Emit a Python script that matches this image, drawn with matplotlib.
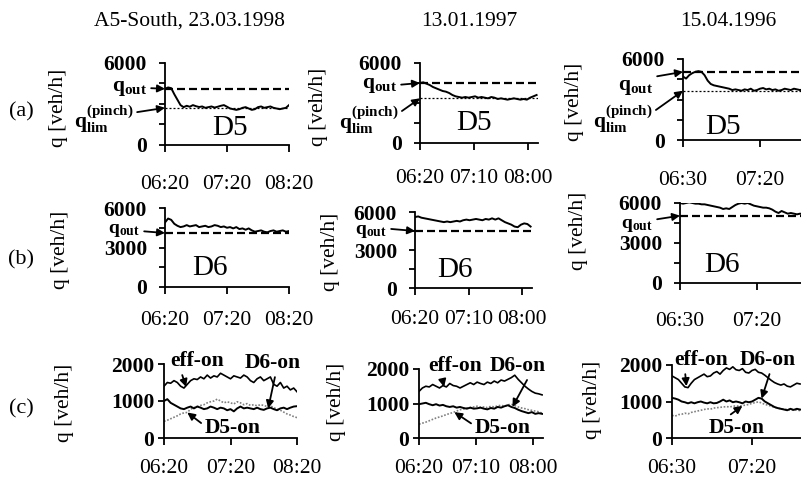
import matplotlib
matplotlib.use("Agg")
import matplotlib.pyplot as plt
import numpy as np

W, H = 801, 479

plt.rcParams["font.family"] = ["Liberation Serif", "DejaVu Serif"]
plt.rcParams["mathtext.fontset"] = "custom"
plt.rcParams["mathtext.rm"] = "Liberation Serif"
plt.rcParams["mathtext.it"] = "Liberation Serif:italic"
plt.rcParams["mathtext.bf"] = "Liberation Serif:bold"

# sampling times, minutes after midnight
T_1998 = np.arange(380, 501, 3)   # 06:20 .. 08:20
T_1997 = np.arange(380, 489, 3)   # 06:20 .. 08:08
T_1996 = np.arange(390, 471, 2)   # 06:30 .. 07:50

TITLES = ["A5-South, 23.03.1998", "13.01.1997", "15.04.1996"]
XTICKS = [[380, 440, 500], [380, 430, 480], [390, 440]]
XLABELS = [["06:20", "07:20", "08:20"], ["06:20", "07:10", "08:00"], ["06:30", "07:20"]]

Q_OUT = [4100, 4500, 5050]
Q_LIM = [2700, 3350, 3650]

# (a) total flow at D5 [veh/h]
D5_1998 = [4100, 4200, 4150, 3700, 3300, 2900, 2750, 2850, 2780, 2900, 2820,
           2760, 2800, 2700, 2750, 2800, 2720, 2780, 2850, 2900, 2780, 2650,
           2600, 2550, 2600, 2700, 2750, 2650, 2550, 2600, 2750, 2800, 2700,
           2750, 2800, 2700, 2650, 2600, 2650, 2700, 2900]
D5_1997 = [4500, 4550, 4450, 4350, 4200, 4100, 4000, 3900, 3850, 3750, 3600,
           3500, 3450, 3400, 3450, 3400, 3450, 3500, 3400, 3450, 3400, 3350,
           3450, 3400, 3300, 3350, 3300, 3250, 3300, 3350, 3300, 3250, 3300,
           3250, 3400, 3500, 3600]
D5_1996 = [4700, 4550, 4800, 4950, 5050, 5100, 5050, 4800, 4400, 4150, 4050,
           4000, 3950, 3900, 3850, 3800, 3700, 3750, 3700, 3650, 3750, 3700,
           3800, 3650, 3700, 3800, 3850, 3750, 3800, 3700, 3750, 3650, 3700,
           3800, 3750, 3700, 3800, 3750, 3700, 3750, 3800]

# (b) total flow at D6 [veh/h]
D6_1998 = [4900, 5200, 5100, 4800, 4650, 4550, 4600, 4700, 4600, 4650, 4700,
           4550, 4600, 4650, 4550, 4600, 4700, 4650, 4550, 4600, 4500, 4550,
           4450, 4550, 4400, 4450, 4350, 4450, 4300, 4200, 4250, 4300, 4200,
           4150, 4250, 4300, 4200, 4250, 4300, 4200, 4250]
D6_1997 = [5600, 5650, 5550, 5500, 5450, 5400, 5350, 5300, 5250, 5200, 5250,
           5200, 5250, 5300, 5250, 5350, 5400, 5350, 5400, 5450, 5400, 5350,
           5450, 5400, 5500, 5400, 5500, 5350, 5200, 5100, 5000, 4850, 4800,
           5000, 5100, 5050, 4850]
D6_1996 = [6000, 5950, 6000, 6050, 6000, 5950, 5950, 5900, 5900, 5850, 5800,
           5750, 5700, 5650, 5550, 5600, 5550, 5700, 5850, 5950, 6000, 5950,
           6000, 5900, 5800, 5750, 5700, 5650, 5650, 5600, 5500, 5350, 5250,
           5400, 5300, 5200, 5250, 5200, 5150, 5200, 5150]

# (c) on-ramp flows [veh/h]
EFF_1998 = [1400, 1500, 1480, 1550, 1500, 1400, 1350, 1450, 1550, 1600, 1580,
            1650, 1600, 1700, 1620, 1680, 1650, 1750, 1700, 1650, 1600, 1680,
            1650, 1620, 1700, 1650, 1550, 1500, 1600, 1650, 1550, 1600, 1650,
            1450, 1400, 1500, 1350, 1400, 1300, 1350, 1250]
D6ON_1998 = [1000, 1050, 950, 900, 850, 800, 780, 820, 850, 800, 850,
             820, 780, 800, 850, 820, 780, 820, 800, 750, 780, 720,
             800, 850, 800, 820, 800, 780, 820, 780, 760, 800, 820,
             780, 750, 800, 820, 780, 820, 850, 860]
D5ON_1998 = [450, 480, 520, 560, 600, 650, 680, 690, 780, 820, 850,
             880, 900, 950, 980, 1000, 1050, 1000, 950, 980, 950, 920,
             980, 950, 900, 930, 880, 900, 870, 900, 880, 850, 870,
             820, 780, 750, 700, 650, 620, 580, 550]

EFF_1997 = [1350, 1450, 1500, 1480, 1550, 1500, 1450, 1520, 1480, 1580, 1520,
            1500, 1450, 1500, 1550, 1600, 1550, 1620, 1580, 1550, 1620, 1580,
            1650, 1600, 1680, 1650, 1700, 1750, 1820, 1700, 1600, 1500, 1420,
            1350, 1300, 1280, 1250]
D6ON_1997 = [980, 1000, 1020, 980, 950, 980, 940, 960, 920, 900, 920,
             880, 900, 870, 850, 880, 850, 860, 880, 850, 830, 870,
             850, 900, 880, 920, 950, 900, 870, 820, 780, 750, 720,
             750, 700, 720, 700]
D5ON_1997 = [400, 430, 460, 500, 540, 580, 610, 640, 680, 710, 740,
             780, 820, 840, 870, 880, 900, 920, 890, 900, 880, 920,
             900, 930, 950, 920, 960, 980, 940, 900, 870, 850, 820,
             800, 780, 760, 720]

EFF_1996 = [1700, 1650, 1600, 1500, 1400, 1380, 1500, 1600, 1650, 1700, 1750,
            1680, 1700, 1780, 1820, 1750, 1850, 1920, 1880, 1950, 1870, 1850,
            1900, 1800, 1780, 1850, 1880, 1800, 1780, 1720, 1650, 1580, 1520,
            1480, 1450, 1480, 1420, 1400, 1450, 1500, 1480]
D6ON_1996 = [1100, 1080, 1050, 1000, 980, 950, 980, 950, 980, 1000, 970,
             950, 980, 950, 960, 1000, 1050, 1000, 1030, 980, 1000, 980,
             950, 1000, 980, 1000, 1050, 1100, 1080, 1000, 950, 900, 850,
             820, 800, 780, 760, 800, 770, 800, 780]
D5ON_1996 = [620, 600, 640, 650, 680, 660, 700, 720, 740, 760, 780,
             800, 790, 820, 830, 840, 850, 860, 850, 870, 880, 870,
             890, 900, 920, 950, 970, 990, 960, 920, 900, 870, 840,
             820, 800, 790, 780, 770, 760, 770, 750]

TIMES = [T_1998, T_1997, T_1996]
ROW_A = [D5_1998, D5_1997, D5_1996]
ROW_B = [D6_1998, D6_1997, D6_1996]
ROW_C = [(EFF_1998, D6ON_1998, D5ON_1998),
         (EFF_1997, D6ON_1997, D5ON_1997),
         (EFF_1996, D6ON_1996, D5ON_1996)]

FS = 15.5


def fpx(x, y):
    """pixel position measured from the top-left corner -> figure fraction"""
    return x / W, 1 - y / H


def add_box(fig, x0, y0, x1, y1):
    return fig.add_axes([x0 / W, 1 - y1 / H, (x1 - x0) / W, (y1 - y0) / H])


def style(ax, xlim, col, ylim, yticks, ylabels, ypad, xpad):
    ax.set_xlim(*xlim)
    ax.set_ylim(*ylim)
    for s in ("top", "right"):
        ax.spines[s].set_visible(False)
    for s in ("left", "bottom"):
        ax.spines[s].set_linewidth(1.3)
    ax.set_xticks(XTICKS[col], XLABELS[col])
    ax.set_yticks(yticks, ylabels)
    ax.tick_params(axis="y", direction="out", length=4, width=1.3, pad=ypad, labelsize=FS)
    ax.tick_params(axis="x", direction="out", length=5, width=1.3, pad=xpad, labelsize=FS)
    for lab in ax.get_yticklabels():
        lab.set_fontweight("bold")
    ax.patch.set_alpha(0)


def arrow(ax, text, xy, pos, relpos=(1, 0.5), ha="center", va="center", size=FS):
    ax.annotate(text, xy=xy, xycoords="data", xytext=fpx(*pos),
                textcoords="figure fraction", ha=ha, va=va, fontsize=size,
                fontweight="bold", annotation_clip=False,
                arrowprops=dict(arrowstyle="-|>", color="black", lw=1.3,
                                mutation_scale=11, shrinkA=1, shrinkB=0,
                                relpos=relpos))


fig = plt.figure(figsize=(W / 100, H / 100), dpi=100)

q_out_txt = r"$\mathbf{q}_{\mathbf{out}}$"
q_lim_txt = r"$\mathbf{q}_{\mathbf{lim}}^{\mathbf{(pinch)}}$"

# ---- row (a): D5
boxes_a = [(165, 63, 289, 144.5), (420, 63, 538, 143), (683, 59, 801, 140)]
xlim_a = [(380, 500), (380, 489.3), (390, 466.6)]
xpad_a = [17, 14, 17]
qout_pos_a = [(147, 88), (397, 85), (653, 87)]
qout_rel_a = [(1, 0.5), (1, 0.5), (1, 1.0)]
qlim_pos_a = [(133, 119), (398, 120), (652, 119)]
d5_pos = [(230, 128), (474, 123), (723, 127)]
for col in range(3):
    ax = add_box(fig, *boxes_a[col])
    t = TIMES[col]
    ax.axhline(Q_OUT[col], color="black", lw=1.6, ls=(0, (3.6, 1.8)))
    ax.axhline(Q_LIM[col], color="black", lw=0.9, ls=(0, (1.6, 1.6)))
    ax.plot(t, ROW_A[col], color="black", lw=1.4)
    style(ax, xlim_a[col], col, (0, 6000), [0, 1500, 3000, 4500, 6000],
          ["0", "", "", "", "6000"], ypad=9, xpad=xpad_a[col])
    arrow(ax, q_out_txt, (xlim_a[col][0], Q_OUT[col]), qout_pos_a[col],
          relpos=qout_rel_a[col], ha="right", size=15.5)
    arrow(ax, q_lim_txt, (xlim_a[col][0], Q_LIM[col]), qlim_pos_a[col],
          relpos=(1, 0.7), ha="right", size=15.5)
    fig.text(*fpx(*d5_pos[col]), "D5", fontsize=21, ha="center", va="center")

# ---- row (b): D6
boxes_b = [(165, 208, 289, 287), (415, 212, 532, 288), (680, 203, 801, 283)]
xlim_b = [(380, 500), (380, 489.3), (390, 468.6)]
xpad_b = [12, 11, 16]
qout_pos_b = [(140, 231), (387, 232), (653, 225)]
qout_rel_b = [(1, 0.5), (1, 0.7), (1, 0.8)]
d6_pos = [(210, 268), (455, 270), (722, 265)]
for col in range(3):
    ax = add_box(fig, *boxes_b[col])
    t = TIMES[col]
    ax.axhline(Q_OUT[col], color="black", lw=1.6, ls=(0, (3.6, 1.8)))
    ax.plot(t, ROW_B[col], color="black", lw=1.4)
    style(ax, xlim_b[col], col, (0, 6000), [0, 1500, 3000, 4500, 6000],
          ["0", "", "3000", "", "6000"], ypad=9, xpad=xpad_b[col])
    arrow(ax, q_out_txt, (xlim_b[col][0], Q_OUT[col]), qout_pos_b[col],
          relpos=qout_rel_b[col], ha="right", size=14)
    fig.text(*fpx(*d6_pos[col]), "D6", fontsize=21, ha="center", va="center")

# ---- row (c): on-ramp flows
boxes_c = [(164, 364, 297, 438), (419, 369, 543, 438), (672, 365, 801, 438)]
xlim_c = [(380, 500), (380, 488.8), (390, 470.6)]
eff_lab = [((197, 361), (400, 1380), (0.2, 0)),
           ((455, 366), (402, 1480), (0.25, 0)),
           ((701, 360), (399, 1420), (0.2, 0))]
d6_lab = [((273, 363), (474, 800), (0.55, 0)),
          ((518, 366), (462, 900), (0.7, 0)),
          ((768, 360), (446, 1080), (0.55, 0))]
d5_lab = [((233, 428), (401, 690), (0, 0.6)),
          ((503, 428), (411, 750), (0, 0.6)),
          ((737, 428), (434, 880), (0.3, 1))]
for col in range(3):
    ax = add_box(fig, *boxes_c[col])
    t = TIMES[col]
    eff, d6on, d5on = ROW_C[col]
    ax.plot(t, d5on, color="0.5", lw=1.2, ls=(0, (1, 1)))
    ax.plot(t, d6on, color="black", lw=1.4)
    ax.plot(t, eff, color="black", lw=1.2)
    style(ax, xlim_c[col], col, (0, 2000), [0, 1000, 2000],
          ["0", "1000", "2000"], ypad=3, xpad=10)
    for (pos, xy, rel), txt in zip((eff_lab[col], d6_lab[col], d5_lab[col]),
                                   ("eff-on", "D6-on", "D5-on")):
        arrow(ax, txt, xy, pos, relpos=rel)

# column titles, row tags and y labels
for x, title in zip((190, 469, 728), TITLES):
    fig.text(*fpx(x, 21), title, fontsize=FS, ha="center", va="center")
for y, tag in zip((112, 260, 409), ("(a)", "(b)", "(c)")):
    fig.text(*fpx(21, y), tag, fontsize=16, ha="center", va="center")
ylab_pos = [(59, 108), (319, 107), (575, 102),
            (60, 250), (330, 252), (578, 231),
            (65, 403), (336, 402), (592, 400)]
for x, y in ylab_pos:
    fig.text(*fpx(x, y), "q [veh/h]", fontsize=FS, rotation=90,
             ha="center", va="center")

fig.savefig("out.png", dpi=100)
